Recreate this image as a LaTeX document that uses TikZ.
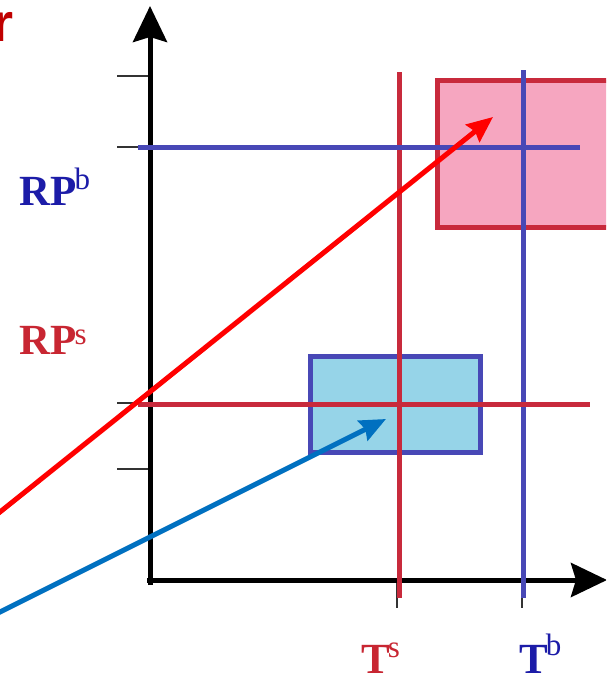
\documentclass[tikz,border=0pt]{standalone}
\usepackage{fontspec}
\setmainfont{Liberation Serif}
\newfontfamily\titlesans{Liberation Sans}
\usetikzlibrary{arrows.meta}
\definecolor{linered}{RGB}{200,42,60}
\definecolor{lineblue}{RGB}{72,72,182}
\definecolor{pinkfill}{RGB}{246,166,192}
\definecolor{bluefill}{RGB}{150,212,232}
\definecolor{arrowred}{RGB}{255,0,0}
\definecolor{arrowblue}{RGB}{0,112,192}
\definecolor{labelblue}{RGB}{28,28,168}
\definecolor{labelred}{RGB}{200,38,50}
\definecolor{titlered}{RGB}{192,0,0}
\tikzset{
  axisline/.style={line width=5pt,black,-{Stealth[length=36pt,width=34pt,inset=5pt]}},
  tickline/.style={line width=1.6pt,black!80},
  guideblue/.style={line width=5pt,lineblue},
  guidered/.style={line width=5pt,linered},
  pinkbox/.style={line width=5pt,draw=linered,fill=pinkfill},
  bluebox/.style={line width=5pt,draw=lineblue,fill=bluefill},
  pointer/.style={line width=5pt,-{Stealth[length=26pt,width=22pt,inset=3pt]}},
  axlabel/.style={inner sep=0pt,font=\bfseries\fontsize{43}{43}\selectfont},
}
\newcommand{\supx}[2]{\raisebox{#1}{\fontsize{31}{31}\selectfont\mdseries #2}}
\begin{document}
\begin{tikzpicture}[x=1pt,y=-1pt]
\clip (0,0) rectangle (606,678);
\fill[white] (0,0) rectangle (606,678);
% boxes
\draw[pinkbox] (437,80) rectangle (620,227);
\draw[bluebox] (310,356) rectangle (480,452);
% ticks
\coordinate (ty1a) at (117,76);  \coordinate (ty1b) at (150,76);
\coordinate (ty2a) at (117,147); \coordinate (ty2b) at (150,147);
\coordinate (ty3a) at (117,403); \coordinate (ty3b) at (150,403);
\coordinate (ty4a) at (117,469); \coordinate (ty4b) at (150,469);
\coordinate (tx1a) at (397,580); \coordinate (tx1b) at (397,608);
\coordinate (tx2a) at (522,580); \coordinate (tx2b) at (522,608);
\draw[tickline] (ty1a) -- (ty1b);
\draw[tickline] (ty2a) -- (ty2b);
\draw[tickline] (ty3a) -- (ty3b);
\draw[tickline] (ty4a) -- (ty4b);
\draw[tickline] (tx1a) -- (tx1b);
\draw[tickline] (tx2a) -- (tx2b);
% axes
\coordinate (origin) at (150,585);
\coordinate (ytip) at (150,6);
\coordinate (xstart) at (147,580);
\coordinate (xtip) at (607,580);
\draw[axisline] (origin) -- (ytip);
\draw[axisline] (xstart) -- (xtip);
% guide lines
\coordinate (rpbA) at (138,147); \coordinate (rpbB) at (580,147);
\coordinate (rpsA) at (138,404); \coordinate (rpsB) at (590,404);
\coordinate (tsA) at (399,72);   \coordinate (tsB) at (399,598);
\coordinate (tbA) at (523,70);   \coordinate (tbB) at (523,598);
\draw[guidered] (tsA) -- (tsB);
\draw[guideblue] (tbA) -- (tbB);
\draw[guideblue] (rpbA) -- (rpbB);
\draw[guidered] (rpsA) -- (rpsB);
% pointers
\coordinate (redstart) at (-10,520);
\coordinate (redend) at (493,117);
\coordinate (bluestart) at (-10,617);
\coordinate (blueend) at (386,419);
\draw[pointer,arrowred] (redstart) -- (redend);
\draw[pointer,arrowblue] (bluestart) -- (blueend);
% labels
\node[axlabel,text=labelblue,anchor=base west] (rpb) at (19,205) {RP\kern-2pt\supx{16pt}{b}};
\node[axlabel,text=labelred,anchor=base west] (rps) at (19,354) {RP\kern-2pt\supx{10pt}{s}};
\node[axlabel,text=labelred,anchor=base west] (ts) at (361,673) {T\kern-2pt\supx{16pt}{s}};
\node[axlabel,text=labelblue,anchor=base west] (tb) at (519,673) {T\kern-2pt\supx{18pt}{b}};
\node[inner sep=0pt,anchor=base east,text=titlered,font=\titlesans\bfseries\fontsize{54}{54}\selectfont] (title) at (14,41) {r};
\end{tikzpicture}
\end{document}
